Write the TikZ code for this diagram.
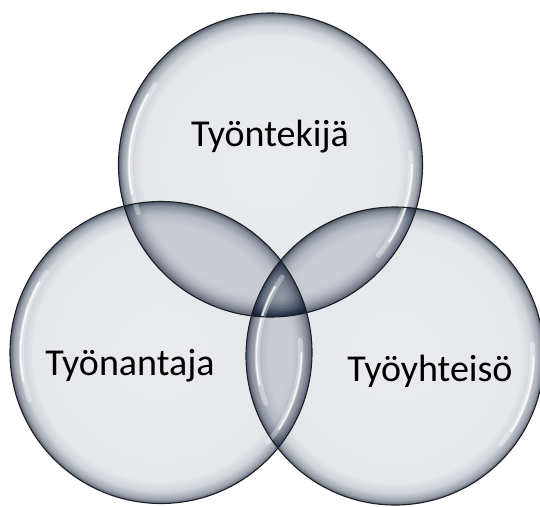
\documentclass[tikz,border=0pt]{standalone}
\usepackage{fontspec}
\setmainfont{Carlito}
\definecolor{bin}{HTML}{EAEBEE}
\definecolor{bin2}{HTML}{E6E7EB}
\definecolor{bmid}{HTML}{D0D3D9}
\definecolor{bdark}{HTML}{9DA3AE}
\definecolor{bedge}{HTML}{5A6271}
\definecolor{bnavy}{HTML}{0A1430}
\definecolor{outl}{HTML}{1C1F26}
\pgfdeclareradialshading{bubble}{\pgfpoint{0bp}{0bp}}{color(0bp)=(bin); color(21.2bp)=(bin2); color(23bp)=(bmid); color(24.3bp)=(bdark); color(25bp)=(bedge); color(50bp)=(bedge)}
\tikzset{
  bubblefill/.style={circle, inner sep=0pt, outer sep=0pt, shading=bubble},
  bubbleline/.style={circle, inner sep=0pt, outer sep=0pt, draw=outl, line width=1.1pt},
  hlwide/.style={draw=white, line width=5pt, line cap=round, opacity=0.35},
  hlthin/.style={draw=white, line width=1.8pt, line cap=round, opacity=0.8},
  lensshade/.style={fill=bnavy, fill opacity=0.13},
  lbl/.style={font=\fontsize{38}{44}\selectfont, text=black, inner sep=0pt, anchor=base}
}
% the darkening rim of a bubble, seen through another bubble
\newcommand\bubblerim[2]{%
  \foreach \i in {1,...,16}{%
    \pgfmathsetmacro\sa{0.835+0.01*\i}%
    \pgfmathsetmacro\ca{0.92-0.54*(\i/16)^2.5}%
    \pgfmathsetmacro\cb{0.92-0.54*((\i-1)/16)^2.5}%
    \pgfmathsetmacro\al{1-\ca/\cb}%
    \fill[bnavy, fill opacity=\al, even odd rule] (#1) circle[radius=#2] (#1) circle[radius=\sa*#2];
  }%
}
\begin{document}
\begin{tikzpicture}[x=1pt,y=1pt]
\useasboundingbox (0,0) rectangle (540,-506);
\fill[white] (0,0) rectangle (540,-506);
% bubble bodies
\node[bubblefill, minimum size=304pt] (top) at (270.5,-165) {};
\node[bubblefill, minimum size=302pt] (left) at (161,-352.5) {};
\node[bubblefill, minimum size=298pt] (right) at (395,-356) {};
% rims of the bubbles below, seen through the ones above
\begin{scope}
  \clip (left.center) circle[radius=151];
  \bubblerim{top.center}{152}
  \fill[lensshade] (top.center) circle[radius=152];
\end{scope}
\begin{scope}
  \clip (right.center) circle[radius=149];
  \bubblerim{top.center}{152}
  \bubblerim{left.center}{151}
  \fill[lensshade] (top.center) circle[radius=152];
  \fill[lensshade] (left.center) circle[radius=151];
\end{scope}
% highlights
\foreach \c/\r in {top/152, left/151, right/149}{
  \draw[hlwide] ([shift={(145:0.925*\r)}]\c.center) arc (145:200:0.925*\r);
  \draw[hlthin] ([shift={(150:0.93*\r)}]\c.center) arc (150:192:0.93*\r);
  \draw[hlwide] ([shift={(-40:0.925*\r)}]\c.center) arc (-40:5:0.925*\r);
  \draw[hlthin] ([shift={(-33:0.93*\r)}]\c.center) arc (-33:0:0.93*\r);
}
% outlines
\node[bubbleline, minimum size=304pt] (topo) at (top.center) {};
\node[bubbleline, minimum size=302pt] (lefto) at (left.center) {};
\node[bubbleline, minimum size=298pt] (righto) at (right.center) {};
% labels
\node[lbl] (tk) at (270,-146) {Työntekijä};
\node[lbl] (ta) at (130,-375) {Työnantaja};
\node[lbl] (ty) at (430,-381) {Työyhteisö};
\end{tikzpicture}
\end{document}
